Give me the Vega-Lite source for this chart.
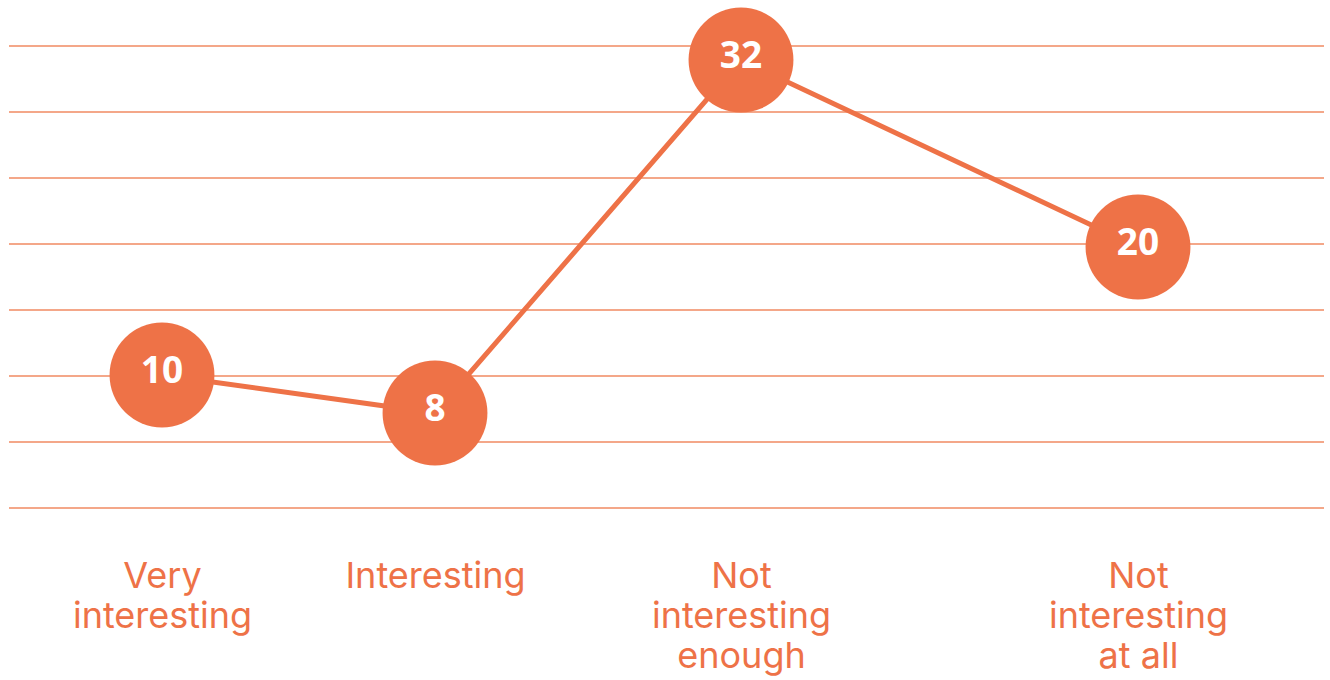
{
  "$schema": "https://vega.github.io/schema/vega-lite/v6.json",
  "width": 1315,
  "height": 520,
  "padding": {"left": 8, "right": 7, "top": 0, "bottom": 14},
  "background": "white",
  "config": {"view": {"stroke": null}},
  "data": {
    "values": [
      {"category": "Very interesting", "rank": 1, "value": 10},
      {"category": "Interesting", "rank": 2, "value": 8},
      {"category": "Not interesting enough", "rank": 3, "value": 32},
      {"category": "Not interesting at all", "rank": 4, "value": 20}
    ]
  },
  "layer": [
    {
      "data": {"values": [{"g": 0}, {"g": 1}, {"g": 2}, {"g": 3}, {"g": 4}, {"g": 5}, {"g": 6}, {"g": 7}]},
      "mark": {"type": "rule", "color": "#F08A62", "strokeWidth": 1.3},
      "encoding": {
        "y": {"field": "g", "type": "quantitative", "scale": {"domain": [0, 7], "range": [508, 46]}, "axis": null}
      }
    },
    {
      "encoding": {
        "x": {
          "field": "rank",
          "type": "quantitative",
          "scale": {"domain": [1, 2, 3, 4], "range": [153, 426, 732, 1129]},
          "axis": {
            "values": [1, 2, 3, 4],
            "domain": false,
            "ticks": false,
            "grid": false,
            "title": null,
            "labelExpr": "datum.value == 1 ? ['Very', 'interesting'] : datum.value == 2 ? 'Interesting' : datum.value == 3 ? ['Not', 'interesting', 'enough'] : ['Not', 'interesting', 'at all']",
            "labelFont": "Inter",
            "labelFontSize": 36,
            "labelColor": "#EE7247",
            "labelLineHeight": 40,
            "labelPadding": 39,
            "labelLimit": 0,
            "labelAngle": 0,
            "labelAlign": "center",
            "labelBaseline": "top",
            "labelFlush": false,
            "labelOverlap": false
          }
        },
        "y": {
          "field": "value",
          "type": "quantitative",
          "scale": {"domain": [8, 10, 20, 32], "range": [413, 375, 247, 60]},
          "axis": null
        }
      },
      "layer": [
        {"mark": {"type": "line", "color": "#EE7247", "strokeWidth": 5}},
        {"mark": {"type": "circle", "color": "#EE7247", "opacity": 1, "size": 11000}},
        {
          "mark": {"type": "text", "color": "white", "font": "Open Sans", "fontSize": 37, "fontWeight": "bold", "baseline": "middle", "dy": -3},
          "encoding": {"text": {"field": "value", "type": "quantitative"}}
        }
      ]
    }
  ],
  "resolve": {"scale": {"y": "independent"}}
}
